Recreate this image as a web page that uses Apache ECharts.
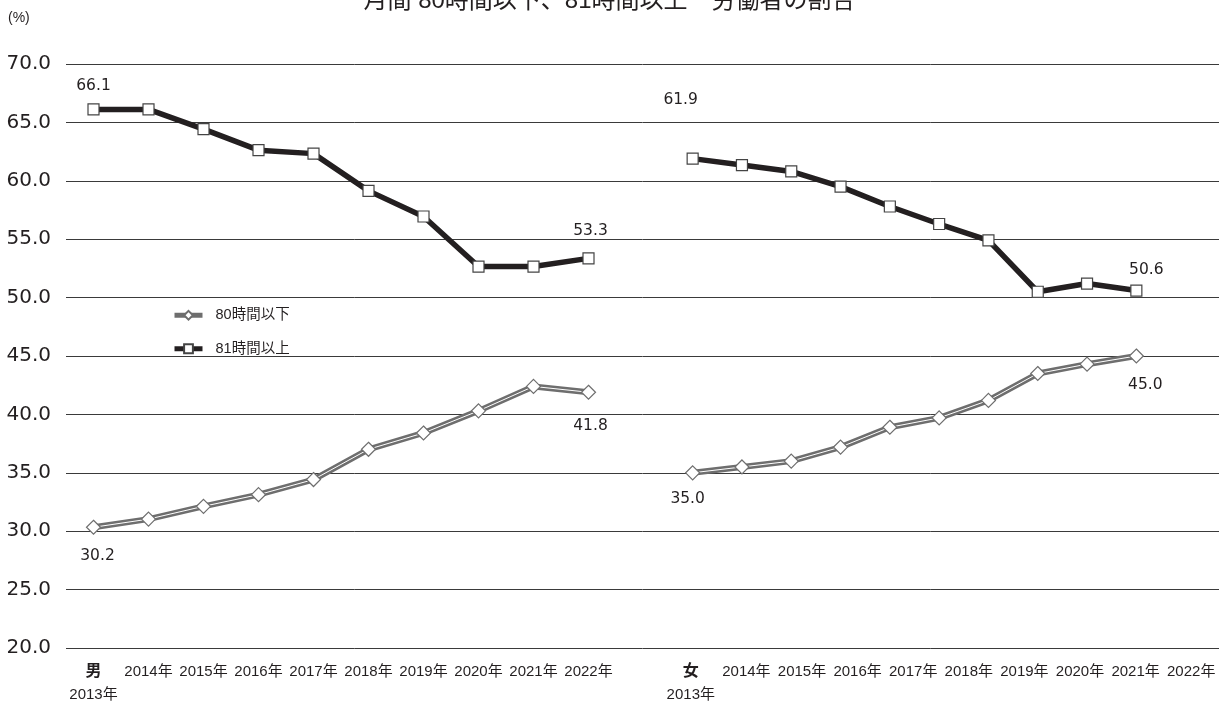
<!DOCTYPE html>
<html>
<head>
<meta charset="utf-8">
<script src="https://cdn.jsdelivr.net/npm/echarts@6/dist/echarts.min.js"></script>
<style>
  html, body { margin: 0; padding: 0; background: #fff; }
  #chart { width: 1219px; height: 706px; }
</style>
</head>
<body>
<div id="chart"></div>
<script>
var years = ['2013年', '2014年', '2015年', '2016年', '2017年', '2018年', '2019年', '2020年', '2021年', '2022年']
var yTicks = [20, 25, 30, 35, 40, 45, 50, 55, 60, 65, 70]

// 男
var menUnder80 = [30.2, 30.9, 32.0, 33.0, 34.3, 36.9, 38.3, 40.2, 42.3, 41.8]
var menOver81 = [66.1, 66.1, 64.4, 62.6, 62.3, 59.1, 56.9, 52.6, 52.6, 53.3]
// 女
var womenUnder80 = [35.0, 35.5, 36.0, 37.2, 38.9, 39.7, 41.2, 43.5, 44.3, 45.0]
var womenOver81 = [61.9, 61.35, 60.8, 59.5, 57.8, 56.3, 54.9, 50.5, 51.2, 50.6]

var FONT = '"Liberation Sans", "Noto Sans CJK JP", sans-serif'
var NUM_FONT = '"DejaVu Sans", sans-serif'
var TEXT = '#231f20'
var GREY = '#6e6e6e'
var BLACK = '#231f20'

// show a value label only on the first and last point
function withEndLabels(values, first, last) {
  return values.map(function (v, i) {
    var item = { value: v }
    if (i === 0 || i === values.length - 1) {
      var o = i === 0 ? first : last
      item.label = {
        show: true,
        position: o.pos,
        distance: o.dist,
        offset: o.offset || [0, 0],
        formatter: function (p) { return p.value.toFixed(1) },
        color: TEXT,
        fontSize: 15.5,
        fontFamily: NUM_FONT
      }
    }
    return item
  })
}

function greyGroup(values, idx, first, last) {
  return [
    {
      name: '80時間以下',
      type: 'line',
      xAxisIndex: idx, yAxisIndex: idx,
      data: values,
      symbol: 'diamond', symbolSize: 13, showSymbol: false,
      lineStyle: { color: GREY, width: 6 },
      itemStyle: { color: '#fff', borderColor: GREY, borderWidth: 1.2 },
      z: 2, silent: true, animation: false
    },
    {
      name: 'w' + idx,
      type: 'line',
      xAxisIndex: idx, yAxisIndex: idx,
      data: values,
      showSymbol: false,
      lineStyle: { color: '#fff', width: 1 },
      z: 3, silent: true, animation: false
    },
    {
      name: 'm' + idx,
      type: 'line',
      xAxisIndex: idx, yAxisIndex: idx,
      data: withEndLabels(values, first, last),
      symbol: 'diamond', symbolSize: 14,
      lineStyle: { opacity: 0, width: 0 },
      itemStyle: { color: '#fff', borderColor: GREY, borderWidth: 1.2 },
      z: 4, silent: true, animation: false
    }
  ]
}

function blackSeries(values, idx, first, last) {
  return {
    name: '81時間以上',
    type: 'line',
    xAxisIndex: idx, yAxisIndex: idx,
    data: withEndLabels(values, first, last),
    symbol: 'rect', symbolSize: 11,
    lineStyle: { color: BLACK, width: 5.5 },
    itemStyle: { color: '#fff', borderColor: '#444', borderWidth: 1.2 },
    z: 5, silent: true, animation: false
  }
}

var chart = echarts.init(document.getElementById('chart'))

var gridTop = 64, gridBottom = 58
function hiddenY(idx) {
  return { type: 'value', gridIndex: idx, min: 20, max: 70, interval: 5, show: false }
}

var xLabel = function (head) {
  return {
    interval: 0, margin: 14, color: TEXT, fontSize: 15, lineHeight: 23, fontFamily: FONT,
    formatter: function (v, i) { return i === 0 ? '{s|' + head + '}\n' + v : v },
    rich: { s: { fontSize: 16, fontWeight: 'bold', color: TEXT, lineHeight: 23, fontFamily: FONT } }
  }
}

chart.setOption({
  animation: false,
  textStyle: { fontFamily: FONT },
  title: {
    text: '月間 80時間以下、81時間以上　労働者の割合',
    left: 'center',
    top: -16,
    textStyle: { fontSize: 24, fontWeight: 'normal', color: TEXT, fontFamily: FONT }
  },
  graphic: [{
    type: 'text', left: 8, top: 11,
    style: { text: '(%)', fontSize: 14, fill: TEXT, fontFamily: FONT }
  }],
  legend: {
    data: [
      { name: '80時間以下', lineStyle: { width: 5, color: GREY } },
      { name: '81時間以上', lineStyle: { width: 5, color: BLACK } }
    ],
    orient: 'vertical',
    left: 167, top: 303,
    itemWidth: 28, itemHeight: 11, itemGap: 19,
    textStyle: { fontSize: 14.5, color: TEXT, fontFamily: FONT, padding: [0, 0, 0, 8] }
  },
  grid: [
    { left: 66, right: 0, top: gridTop, bottom: gridBottom },      // background gridlines
    { left: 66, width: 550, top: gridTop, bottom: gridBottom },    // 男
    { left: 668, width: 493, top: gridTop, bottom: gridBottom },   // 女 (points)
    { left: 663, width: 556, top: gridTop, bottom: gridBottom }    // 女 (labels)
  ],
  xAxis: [
    { type: 'category', gridIndex: 0, data: years, show: false },
    {
      type: 'category', gridIndex: 1, data: years, boundaryGap: true,
      axisLine: { show: false }, axisTick: { show: false },
      axisLabel: xLabel('男')
    },
    { type: 'category', gridIndex: 2, data: years, boundaryGap: true, show: false },
    {
      type: 'category', gridIndex: 3, data: years, boundaryGap: true,
      axisLine: { show: false }, axisTick: { show: false },
      axisLabel: xLabel('女')
    }
  ],
  yAxis: [
    {
      type: 'value', gridIndex: 0, min: yTicks[0], max: yTicks[yTicks.length - 1], interval: 5,
      axisLine: { show: false }, axisTick: { show: false },
      axisLabel: {
        margin: 15, color: TEXT, fontSize: 20, fontFamily: NUM_FONT,
        formatter: function (v) { return v.toFixed(1) }
      },
      splitLine: { lineStyle: { color: '#3a3a3a', width: 1 } }
    },
    hiddenY(1), hiddenY(2), hiddenY(3)
  ],
  series: [].concat(
    greyGroup(menUnder80, 1,
      { pos: 'bottom', dist: 13, offset: [4, 0] },
      { pos: 'bottom', dist: 18, offset: [2, 0] }),
    greyGroup(womenUnder80, 2,
      { pos: 'bottom', dist: 11, offset: [-5, 0] },
      { pos: 'bottom', dist: 13, offset: [9, 0] }),
    [
      blackSeries(menOver81, 1,
        { pos: 'top', dist: 9, offset: [0, 0] },
        { pos: 'top', dist: 13, offset: [2, 0] }),
      blackSeries(womenOver81, 2,
        { pos: 'top', dist: 45, offset: [-12, 0] },
        { pos: 'top', dist: 7, offset: [10, 0] })
    ]
  )
})
</script>
</body>
</html>
